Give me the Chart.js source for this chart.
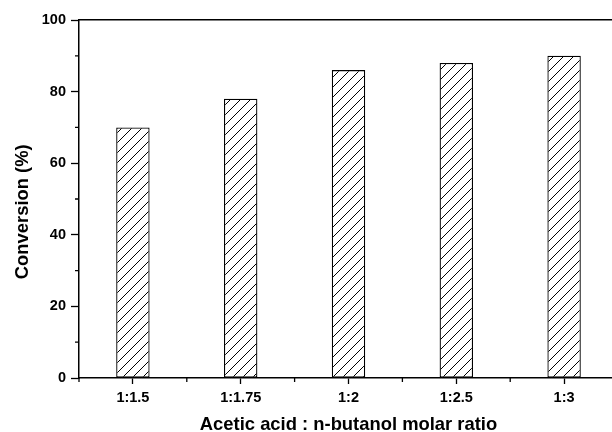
<!DOCTYPE html>
<html>
<head>
<meta charset="utf-8">
<script src="https://cdn.jsdelivr.net/npm/chart.js@4"></script>
<style>
  html, body { margin: 0; padding: 0; overflow: hidden; background: #fff; }
</style>
</head>
<body>
<canvas id="chart" width="626" height="432"></canvas>
<script>
const ratios = ["1:1.5", "1:1.75", "1:2", "1:2.5", "1:3"];
const conversion = [70, 78, 86, 88, 90];
const yMajorTicks = [0, 20, 40, 60, 80, 100];
const yMinorTicks = [10, 30, 50, 70, 90];

const fontFamily = "'Liberation Sans', Arial, sans-serif";

// diagonal "/" hatch used as bar fill
function makeHatch() {
  const size = 10;
  const c = document.createElement("canvas");
  c.width = size;
  c.height = size;
  const g = c.getContext("2d");
  g.fillStyle = "#fff";
  g.fillRect(0, 0, size, size);
  g.strokeStyle = "#000";
  g.lineWidth = 1;
  g.beginPath();
  g.moveTo(0, size); g.lineTo(size, 0);
  g.moveTo(-1, 1); g.lineTo(1, -1);
  g.moveTo(size - 1, size + 1); g.lineTo(size + 1, size - 1);
  g.stroke();
  return g.createPattern(c, "repeat");
}

// short ticks between the labelled ones
const minorTicks = {
  id: "minorTicks",
  afterDraw(chart) {
    const { ctx, scales: { x, y } } = chart;
    ctx.save();
    ctx.strokeStyle = "#000";
    ctx.lineWidth = 1.3;
    ctx.beginPath();
    yMinorTicks.forEach((v) => {
      const py = y.getPixelForValue(v);
      ctx.moveTo(y.right - 4, py);
      ctx.lineTo(y.right, py);
    });
    for (let i = -1; i < ratios.length; i++) {
      const px = x.getPixelForValue(i + 0.5);
      ctx.moveTo(px, x.top);
      ctx.lineTo(px, x.top + 4);
    }
    ctx.stroke();
    ctx.restore();
  },
};

const ctx = document.getElementById("chart").getContext("2d");

new Chart(ctx, {
  type: "bar",
  data: {
    labels: ratios,
    datasets: [
      {
        label: "Conversion",
        data: conversion,
        backgroundColor: makeHatch(),
        borderColor: "#000",
        borderWidth: 1.3,
        borderSkipped: false,
        barPercentage: 0.31,
        categoryPercentage: 1,
      },
    ],
  },
  options: {
    responsive: false,
    animation: false,
    devicePixelRatio: 1,
    layout: { padding: { top: 20, right: 8, left: 0, bottom: 0 } },
    plugins: {
      legend: { display: false },
      tooltip: { enabled: false },
    },
    scales: {
      x: {
        type: "category",
        offset: true,
        grid: {
          offset: false,
          drawOnChartArea: false,
          tickLength: 6,
          tickColor: "#000",
          tickWidth: 1.3,
        },
        border: { display: true, color: "#000", width: 1.5 },
        ticks: {
          color: "#000",
          padding: 5,
          maxRotation: 0,
          font: { family: fontFamily, weight: "bold", size: 14.5 },
        },
        title: {
          display: true,
          text: "Acetic acid : n-butanol molar ratio",
          color: "#000",
          font: { family: fontFamily, weight: "bold", size: 18.4 },
          padding: { top: 0, bottom: -4 },
        },
        afterFit: (s) => { s.height = 54; },
      },
      xTop: {
        type: "category",
        position: "top",
        grid: { display: false, drawTicks: false },
        ticks: { display: false },
        border: { display: true, color: "#000", width: 1.5 },
        afterFit: (s) => { s.height = 0; },
      },
      y: {
        min: 0,
        max: 100,
        afterBuildTicks: (s) => { s.ticks = yMajorTicks.map((v) => ({ value: v })); },
        grid: {
          drawOnChartArea: false,
          tickLength: 8,
          tickColor: "#000",
          tickWidth: 1.3,
        },
        border: { display: true, color: "#000", width: 1.5 },
        ticks: {
          color: "#000",
          padding: 5,
          font: { family: fontFamily, weight: "bold", size: 14.5 },
        },
        title: {
          display: true,
          // trailing spaces push the label a little below the axis middle, as in the original
          text: "Conversion (%)     ",
          color: "#000",
          font: { family: fontFamily, weight: "bold", size: 18.4 },
          padding: { top: 12, bottom: 0 },
        },
        afterFit: (s) => { s.width = 79; },
      },
    },
  },
  plugins: [minorTicks],
});
</script>
</body>
</html>
